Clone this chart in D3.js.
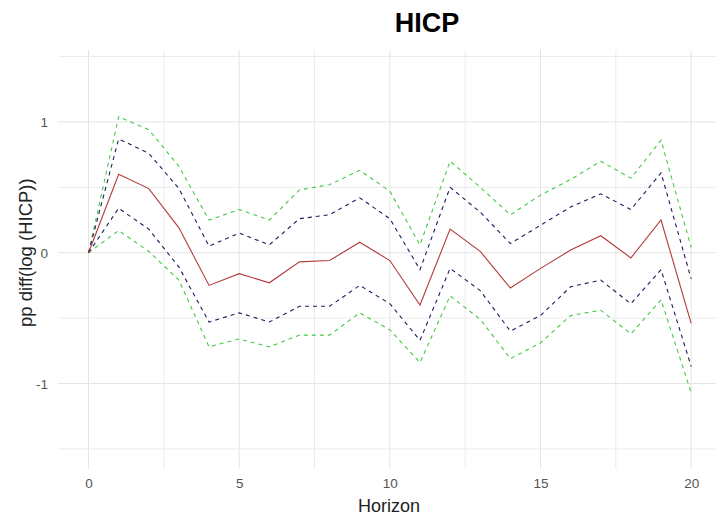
<!DOCTYPE html>
<html>
<head>
<meta charset="utf-8">
<script src="https://cdn.jsdelivr.net/npm/d3@7"></script>
<style>
  body { margin: 0; background: #fff; }
  svg { display: block; font-family: "Liberation Sans", Arial, sans-serif; }
</style>
</head>
<body>
<div id="chart"></div>
<script>
// horizon steps
var horizon = d3.range(0, 21);

// median response
var median = [0, 0.60, 0.49, 0.19, -0.25, -0.16, -0.23, -0.07, -0.06, 0.08, -0.06,
  -0.40, 0.18, 0.01, -0.27, -0.12, 0.02, 0.13, -0.04, 0.25, -0.54];

// inner band (blue)
var upper_inner = [0, 0.87, 0.76, 0.49, 0.05, 0.15, 0.06, 0.26, 0.29, 0.42, 0.26,
  -0.13, 0.50, 0.31, 0.07, 0.21, 0.35, 0.45, 0.33, 0.61, -0.20];
var lower_inner = [0, 0.34, 0.18, -0.11, -0.53, -0.46, -0.53, -0.41, -0.41, -0.25, -0.39,
  -0.67, -0.12, -0.29, -0.60, -0.48, -0.26, -0.21, -0.39, -0.13, -0.87];

// outer band (green)
var upper_outer = [0, 1.04, 0.94, 0.66, 0.25, 0.33, 0.25, 0.48, 0.52, 0.63, 0.47,
  0.06, 0.70, 0.50, 0.29, 0.44, 0.56, 0.70, 0.57, 0.86, 0.04];
var lower_outer = [0, 0.17, 0.01, -0.21, -0.72, -0.66, -0.72, -0.63, -0.63, -0.46, -0.59,
  -0.84, -0.33, -0.51, -0.81, -0.69, -0.48, -0.44, -0.62, -0.36, -1.07];

var x_ticks = [0, 5, 10, 15, 20];
var x_minor = [2.5, 7.5, 12.5, 17.5];
var y_ticks = [-1, 0, 1];
var y_minor = [-1.5, -0.5, 0.5, 1.5];

var width = 716, height = 522;
var panel = {left: 58.4, right: 721.3, top: 50, bottom: 469};

var svg = d3.select('#chart').append('svg')
  .attr('width', width)
  .attr('height', height);

var x_scale = d3.scaleLinear().domain([-1, 21]).range([panel.left, panel.right]);
var y_scale = d3.scaleLinear().domain([-1.654, 1.55]).range([panel.bottom, panel.top]);

// grid lines
////////////////////////////////////////////
var grid = svg.append('g').attr('class', 'grid');

grid.selectAll('.vgrid')
  .data(x_ticks.concat(x_minor))
  .enter()
  .append('line')
  .attr('x1', function(d) { return x_scale(d); })
  .attr('x2', function(d) { return x_scale(d); })
  .attr('y1', panel.top)
  .attr('y2', panel.bottom)
  .style('stroke', function(d) { return x_ticks.indexOf(d) >= 0 ? '#e4e4e4' : '#ececec'; })
  .style('stroke-width', 1);

grid.selectAll('.hgrid')
  .data(y_ticks.concat(y_minor))
  .enter()
  .append('line')
  .attr('x1', panel.left)
  .attr('x2', panel.right)
  .attr('y1', function(d) { return y_scale(d); })
  .attr('y2', function(d) { return y_scale(d); })
  .style('stroke', function(d) { return y_ticks.indexOf(d) >= 0 ? '#e4e4e4' : '#ececec'; })
  .style('stroke-width', 1);

// axes, no domain lines or tick marks
////////////////////////////////////////////
var x_axis = d3.axisBottom(x_scale).tickValues(x_ticks).tickSize(0).tickPadding(0);
// plain hyphen for negatives, like the original
var y_axis = d3.axisLeft(y_scale).tickValues(y_ticks).tickSize(0).tickPadding(0)
  .tickFormat(function(d) { return String(d); });

var gx = svg.append('g')
  .attr('transform', 'translate(0,' + 478 + ')')
  .call(x_axis);
var gy = svg.append('g')
  .attr('transform', 'translate(' + 48 + ',0)')
  .call(y_axis);

[gx, gy].forEach(function(g) {
  g.select('.domain').remove();
  g.selectAll('text')
    .style('font-family', '"Liberation Sans", Arial, sans-serif')
    .style('font-size', '13.5px')
    .style('fill', '#555');
});
gy.selectAll('text').attr('dy', '0.35em');

// lines
////////////////////////////////////////////
var line = d3.line()
  .x(function(d, i) { return x_scale(horizon[i]); })
  .y(function(d) { return y_scale(d); });

var series = [
  {values: upper_outer, color: '#45c845', dash: '4,4'},
  {values: lower_outer, color: '#45c845', dash: '4,4'},
  {values: upper_inner, color: '#1c1c5e', dash: '4,4'},
  {values: lower_inner, color: '#1c1c5e', dash: '4,4'},
  {values: median, color: '#b33a3a', dash: null}
];

svg.selectAll('.irf')
  .data(series)
  .enter()
  .append('path')
  .attr('class', 'irf')
  .attr('d', function(d) { return line(d.values); })
  .style('fill', 'none')
  .style('stroke', function(d) { return d.color; })
  .style('stroke-width', 1.1)
  .style('stroke-dasharray', function(d) { return d.dash; });

// titles
////////////////////////////////////////////
svg.append('text')
  .attr('x', 427)
  .attr('y', 32)
  .attr('text-anchor', 'middle')
  .style('font-size', '27px')
  .style('font-weight', 'bold')
  .style('fill', '#000')
  .text('HICP');

svg.append('text')
  .attr('x', 389)
  .attr('y', 511.5)
  .attr('text-anchor', 'middle')
  .style('font-size', '18px')
  .style('fill', '#222')
  .text('Horizon');

svg.append('text')
  .attr('transform', 'translate(' + 32 + ',' + 252.7 + ') rotate(-90)')
  .attr('text-anchor', 'middle')
  .style('font-size', '18.5px')
  .style('fill', '#222')
  .text('pp diff(log (HICP))');
</script>
</body>
</html>
